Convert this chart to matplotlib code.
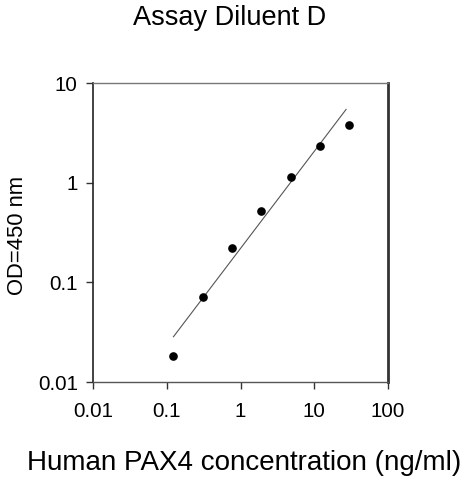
import numpy as np
import matplotlib
matplotlib.use("Agg")
import matplotlib.pyplot as plt
from matplotlib.ticker import FixedLocator, FixedFormatter, NullLocator

# standard curve, Assay Diluent D
conc = [0.123, 0.307, 0.768, 1.92, 4.8, 12.0, 30.0]
od = [0.0182, 0.0706, 0.219, 0.523, 1.146, 2.31, 3.76]

# fitted power curve: log10(od) = fit_b + fit_m * log10(conc)
fit_m = 0.974
fit_b = -0.659
fit_xmax = 27.0

tick_vals = [0.01, 0.1, 1, 10, 100]
x_tick_labels = ["0.01", "0.1", "1", "10", "100"]
y_tick_vals = [0.01, 0.1, 1, 10]
y_tick_labels = ["0.01", "0.1", "1", "10"]

plt.rcParams["font.family"] = ["Liberation Sans", "DejaVu Sans"]

fig = plt.figure(figsize=(4.63, 4.8), dpi=100)
ax = fig.add_axes([0.201, 0.204, 0.637, 0.623])

xf = np.array([min(conc), fit_xmax])
ax.plot(xf, 10 ** (fit_b + fit_m * np.log10(xf)), color="#555555", lw=0.8)
ax.plot(conc, od, "o", color="black", ms=5.2, zorder=3)

ax.set_xscale("log")
ax.set_yscale("log")
ax.set_xlim(0.01, 100)
ax.set_ylim(0.01, 10)
ax.xaxis.set_major_locator(FixedLocator(tick_vals))
ax.xaxis.set_major_formatter(FixedFormatter(x_tick_labels))
ax.yaxis.set_major_locator(FixedLocator(y_tick_vals))
ax.yaxis.set_major_formatter(FixedFormatter(y_tick_labels))
ax.xaxis.set_minor_locator(NullLocator())
ax.yaxis.set_minor_locator(NullLocator())
ax.tick_params(direction="out", length=5, width=1, colors="#333333",
               labelcolor="black", labelsize=14.8)
ax.tick_params(axis="x", pad=9)
ax.tick_params(axis="y", pad=6)

ax.spines["left"].set_color("#222222")
ax.spines["left"].set_linewidth(1.2)
ax.spines["right"].set_color("#333333")
ax.spines["right"].set_linewidth(2)
ax.spines["top"].set_color("#777777")
ax.spines["top"].set_linewidth(1)
ax.spines["bottom"].set_color("#555555")
ax.spines["bottom"].set_linewidth(1)

fig.text(0.495, 0.962, "Assay Diluent D", ha="center", va="center", fontsize=19.5)
fig.text(0.527, 0.035, "Human PAX4 concentration (ng/ml)", ha="center", va="center", fontsize=20)
fig.text(0.037, 0.51, "OD=450 nm", ha="center", va="center", rotation=90, fontsize=15.8)

fig.savefig("out.png", dpi=100)
